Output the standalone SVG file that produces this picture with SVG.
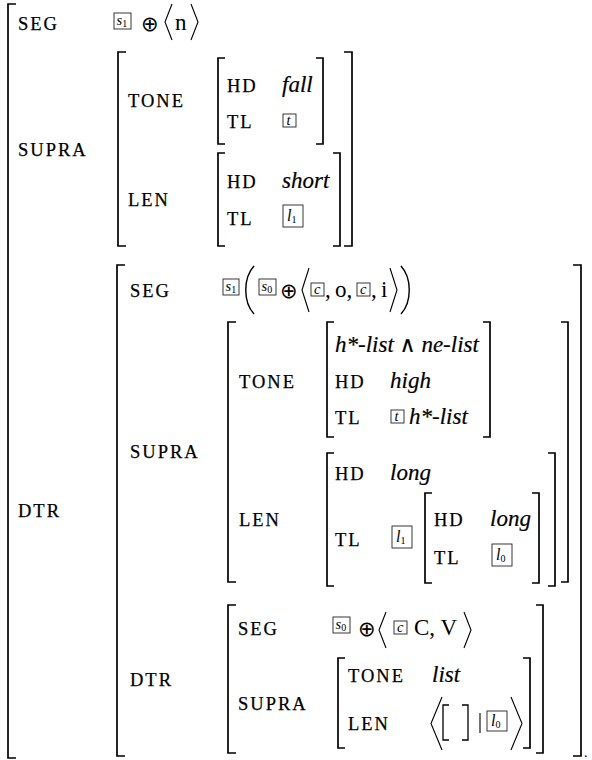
<svg xmlns="http://www.w3.org/2000/svg" width="592" height="760" viewBox="0 0 592 760">
<style>
.k{font-family:"Liberation Serif",serif;font-size:18.5px;letter-spacing:2px;fill:#000;stroke:#000;stroke-width:0.25}
.v{font-family:"Liberation Serif",serif;font-size:23px;font-style:italic;fill:#000;stroke:#000;stroke-width:0.2}
.r{font-family:"Liberation Serif",serif;font-size:23px;fill:#000}
.b{fill:none;stroke:#000;stroke-width:1.7}
.box{fill:none;stroke:#222;stroke-width:0.9}
.bt{font-family:"Liberation Serif",serif;font-style:italic;font-size:14.5px;fill:#000}
.bl{font-family:"Liberation Serif",serif;font-style:italic;font-size:16px;fill:#000}
.sub{font-size:10px;font-style:normal}
.op{font-family:"DejaVu Sans",sans-serif;font-size:21px;fill:#000}
.m{font-family:"DejaVu Serif",serif;font-size:22px;font-style:normal}
.ang{fill:none;stroke:#000;stroke-width:1.1}
.par{fill:none;stroke:#000;stroke-width:1.4}
</style>
<g id="root">
<path class="b" d="M16,4 H8 V758 H16"/>
<g id="top-seg">
<text class="k" x="18" y="30">SEG</text>
<rect class="box" x="114" y="13" width="17" height="16"/><text class="bt" x="116.5" y="25">s<tspan class="sub" dy="2">1</tspan></text>
<text class="op" x="141" y="31">⊕</text>
<polyline class="ang" points="172,4 165,22 172,40"/>
<text class="r" x="175" y="30">n</text>
<polyline class="ang" points="191,4 198,22 191,40"/>
</g>
<g id="top-supra">
<text class="k" x="18" y="156">SUPRA</text>
<path class="b" d="M126,52 H118 V246 H126"/>
<path class="b" d="M344,52 H352 V246 H344"/>
<g id="top-tone">
<text class="k" x="128" y="107">TONE</text>
<path class="b" d="M225,58 H218 V144 H225"/>
<path class="b" d="M316,58 H323 V144 H316"/>
<text class="k" x="227" y="92">HD</text>
<text class="v" x="282" y="92">fall</text>
<text class="k" x="227" y="128">TL</text>
<rect class="box" x="283" y="114" width="13" height="13"/><text class="bt" x="286.5" y="125">t</text>
</g>
<g id="top-len">
<text class="k" x="128" y="206">LEN</text>
<path class="b" d="M225,153 H218 V246 H225"/>
<path class="b" d="M333,153 H340 V246 H333"/>
<text class="k" x="227" y="188">HD</text>
<text class="v" x="282" y="188">short</text>
<text class="k" x="227" y="225">TL</text>
<rect class="box" x="283" y="205" width="20" height="22"/><text class="bl" x="287" y="221">l<tspan class="sub" dy="2">1</tspan></text>
</g>
</g>
<g id="dtr">
<text class="k" x="18" y="517">DTR</text>
<path class="b" d="M125,265 H117 V756 H125"/>
<path class="b" d="M573,265 H581 V756 H573"/>
<g id="dtr-seg">
<text class="k" x="130" y="297">SEG</text>
<rect class="box" x="223" y="279" width="16" height="16"/><text class="bt" x="225.5" y="291">s<tspan class="sub" dy="2">1</tspan></text>
<path class="par" d="M254,266 C243,278 243,302 254,314"/>
<rect class="box" x="259" y="279" width="17" height="16"/><text class="bt" x="261.5" y="291">s<tspan class="sub" dy="2">0</tspan></text>
<text class="op" x="280" y="298">⊕</text>
<polyline class="ang" points="309,268 302,290 309,312"/>
<rect class="box" x="311" y="283" width="13" height="13"/><text class="bt" x="314" y="294">c</text>
<text class="r" x="325" y="297">,</text>
<text class="r" x="335" y="297">o,</text>
<rect class="box" x="357" y="283" width="13" height="13"/><text class="bt" x="360" y="294">c</text>
<text class="r" x="371" y="297">,</text>
<text class="r" x="381" y="297">i</text>
<polyline class="ang" points="390,268 397,290 390,312"/>
<path class="par" d="M401,266 C412,278 412,302 401,314"/>
</g>
<g id="dtr-supra">
<text class="k" x="130" y="458">SUPRA</text>
<path class="b" d="M236,322 H228 V582 H236"/>
<path class="b" d="M561,322 H568 V582 H561"/>
<g id="dtr-tone">
<text class="k" x="239" y="388">TONE</text>
<path class="b" d="M334,322 H327 V437 H334"/>
<path class="b" d="M483,322 H490 V437 H483"/>
<text class="v" x="335" y="352">h*-list <tspan class="m">∧</tspan> ne-list</text>
<text class="k" x="335" y="388">HD</text>
<text class="v" x="390" y="388">high</text>
<text class="k" x="335" y="424">TL</text>
<rect class="box" x="391" y="410" width="13" height="13"/><text class="bt" x="394.5" y="421">t</text>
<text class="v" x="409" y="424">h*-list</text>
</g>
<g id="dtr-len">
<text class="k" x="239" y="526">LEN</text>
<path class="b" d="M334,453 H327 V586 H334"/>
<path class="b" d="M548,453 H555 V586 H548"/>
<text class="k" x="335" y="480">HD</text>
<text class="v" x="390" y="480">long</text>
<text class="k" x="335" y="546">TL</text>
<rect class="box" x="392" y="526" width="20" height="22"/><text class="bl" x="396" y="542">l<tspan class="sub" dy="2">1</tspan></text>
<g id="dtr-len-tl">
<path class="b" d="M432,493 H425 V583 H432"/>
<path class="b" d="M532,493 H539 V583 H532"/>
<text class="k" x="434" y="526">HD</text>
<text class="v" x="490" y="526">long</text>
<text class="k" x="434" y="564">TL</text>
<rect class="box" x="492" y="544" width="20" height="22"/><text class="bl" x="496" y="560">l<tspan class="sub" dy="2">0</tspan></text>
</g>
</g>
</g>
<g id="dtr-dtr">
<text class="k" x="130" y="686">DTR</text>
<path class="b" d="M236,605 H228 V753 H236"/>
<path class="b" d="M536,605 H543 V753 H536"/>
<g id="dtr-dtr-seg">
<text class="k" x="238" y="635">SEG</text>
<rect class="box" x="333" y="617" width="17" height="16"/><text class="bt" x="335.5" y="629">s<tspan class="sub" dy="2">0</tspan></text>
<text class="op" x="358" y="636">⊕</text>
<polyline class="ang" points="386,612 379,630 386,648"/>
<rect class="box" x="394" y="621" width="13" height="13"/><text class="bt" x="397" y="632">c</text>
<text class="r" x="414" y="635">C, V</text>
<polyline class="ang" points="464,612 471,630 464,648"/>
</g>
<g id="dtr-dtr-supra">
<text class="k" x="238" y="710">SUPRA</text>
<path class="b" d="M345,658 H338 V748 H345"/>
<path class="b" d="M523,658 H530 V748 H523"/>
<text class="k" x="348" y="682">TONE</text>
<text class="v" x="432" y="682">list</text>
<text class="k" x="348" y="730">LEN</text>
<polyline class="ang" points="442,697 431,723.5 442,750"/>
<path class="b" style="stroke-width:1.3" d="M449,705 H443 V740 H449"/>
<path class="b" style="stroke-width:1.3" d="M462,705 H468 V740 H462"/>
<line class="ang" x1="480" y1="713" x2="480" y2="733"/>
<rect class="box" x="487" y="711" width="20" height="20"/><text class="bl" x="491" y="726">l<tspan class="sub" dy="2">0</tspan></text>
<polyline class="ang" points="511,697 522,723.5 511,750"/>
</g>
</g>
</g>
<text class="r" x="584" y="757" style="font-size:14px">.</text>
</g>
</svg>
